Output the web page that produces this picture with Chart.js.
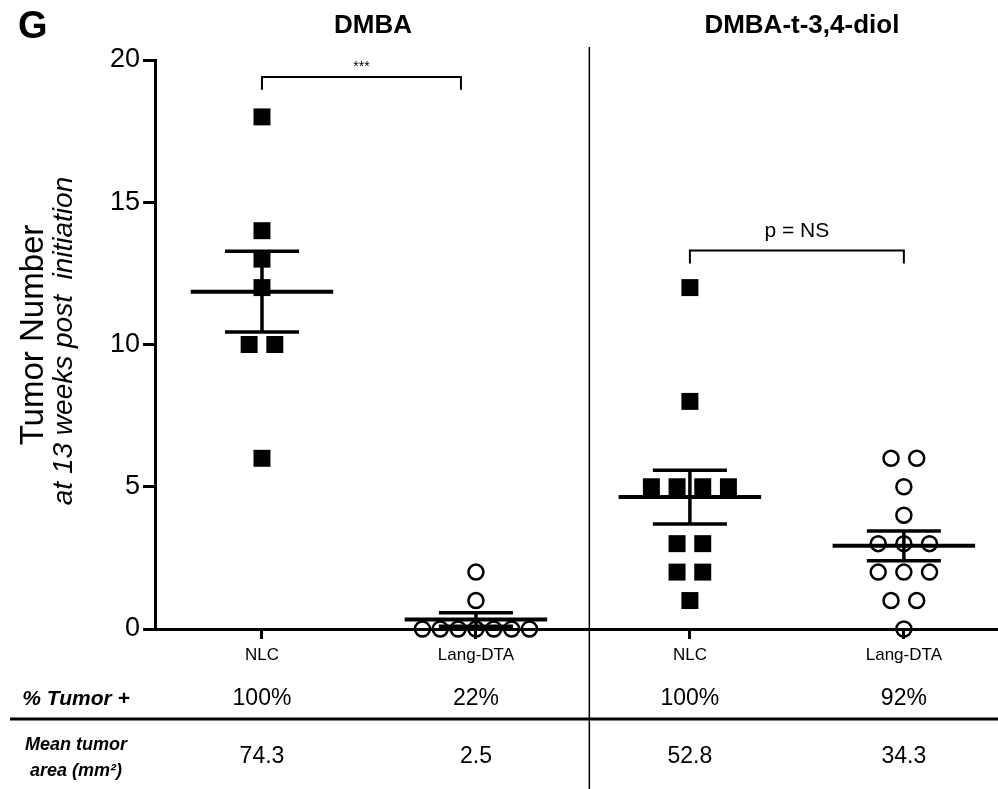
<!DOCTYPE html>
<html>
<head>
<meta charset="utf-8">
<script src="https://cdn.jsdelivr.net/npm/chart.js@4.4.0/dist/chart.umd.min.js"></script>
<style>
  html, body { margin: 0; padding: 0; background: #fff; }
  #wrap { width: 998px; height: 789px; position: relative; }
</style>
</head>
<body>
<div id="wrap"><canvas id="chart" width="998" height="789"></canvas></div>
<script>
// ===== Data =====
const groupLabels = ['NLC', 'Lang-DTA', 'NLC', 'Lang-DTA'];
const treatments  = ['DMBA', 'DMBA-t-3,4-diol'];
const nlcDmba  = [18, 14, 13, 12, 10, 10, 6];
const langDmba = [2, 1, 0, 0, 0, 0, 0, 0, 0];
const nlcDiol  = [12, 8, 5, 5, 5, 5, 3, 3, 2, 2, 1];
const langDiol = [6, 6, 5, 4, 3, 3, 3, 2, 2, 2, 1, 1, 0];
const pctTumor = ['100%', '22%', '100%', '92%'];
const meanArea = ['74.3', '2.5', '52.8', '34.3'];
const yTicks   = [0, 5, 10, 15, 20];
const sigLabels = ['***', 'p = NS'];

// ===== Layout (x in axis units) =====
const groupX   = [0.5, 1.5, 2.5, 3.5];
const xMax     = 3.94;
const dividerX = 2.03;
const FONT = "'Liberation Sans', Arial, sans-serif";

Chart.defaults.font.family = FONT;
Chart.defaults.color = '#000';

// spread equal values side by side, like a dot plot
function spread(values, gx) {
  const counts = {};
  values.forEach(v => counts[v] = (counts[v] || 0) + 1);
  const seen = {};
  return values.map(v => {
    const n = counts[v];
    const k = seen[v] = (seen[v] === undefined ? 0 : seen[v] + 1);
    const step = n > 1 ? Math.min(0.12, 0.5 / (n - 1)) : 0;
    return { x: gx + (k - (n - 1) / 2) * step, y: v };
  });
}

function stats(values) {
  const n = values.length;
  const mean = values.reduce((a, b) => a + b, 0) / n;
  const sd = Math.sqrt(values.reduce((a, b) => a + (b - mean) ** 2, 0) / (n - 1));
  return { mean, sem: sd / Math.sqrt(n) };
}

function seg(x1, y1, x2, y2, w) {
  return {
    type: 'line', data: [{ x: x1, y: y1 }, { x: x2, y: y2 }],
    borderColor: '#000', borderWidth: w, pointRadius: 0, clip: false,
    borderCapStyle: 'butt'
  };
}

const groups = [nlcDmba, langDmba, nlcDiol, langDiol];
const datasets = [];

groups.forEach((vals, i) => {
  const gx = groupX[i];
  const isNlc = i % 2 === 0;
  datasets.push({
    type: 'scatter',
    data: spread(vals, gx),
    pointStyle: isNlc ? 'rect' : 'circle',
    pointRadius: isNlc ? 12 : 7.5,
    pointBackgroundColor: isNlc ? '#000' : 'rgba(0,0,0,0)',
    pointBorderColor: '#000',
    pointBorderWidth: isNlc ? 0 : 2.5,
    clip: false
  });
  const s = stats(vals);
  datasets.push(seg(gx - 0.333, s.mean, gx + 0.333, s.mean, 4));
  datasets.push(seg(gx - 0.173, s.mean + s.sem, gx + 0.173, s.mean + s.sem, 3.5));
  datasets.push(seg(gx - 0.173, s.mean - s.sem, gx + 0.173, s.mean - s.sem, 3.5));
  datasets.push(seg(gx, s.mean - s.sem, gx, s.mean + s.sem, 3.5));
});

// ===== Annotations: titles, brackets, divider, table =====
const extras = {
  id: 'extras',
  afterDraw(chart) {
    const ctx = chart.ctx;
    const xs = chart.scales.x, ys = chart.scales.y;
    const px = v => xs.getPixelForValue(v);
    const py = v => ys.getPixelForValue(v);
    ctx.save();
    ctx.fillStyle = '#000';
    ctx.strokeStyle = '#000';
    ctx.textBaseline = 'middle';

    // panel letter
    ctx.font = 'bold 38px ' + FONT;
    ctx.textAlign = 'left';
    ctx.fillText('G', 18, 28);

    // treatment headers
    ctx.font = 'bold 26px ' + FONT;
    ctx.textAlign = 'center';
    ctx.fillText(treatments[0], px((groupX[0] + groupX[1]) / 2) + 4, 26);
    ctx.fillText(treatments[1], px((groupX[2] + groupX[3]) / 2) + 5, 26);

    // divider
    ctx.lineWidth = 1.5;
    ctx.beginPath();
    ctx.moveTo(px(dividerX), 47);
    ctx.lineTo(px(dividerX), 789);
    ctx.stroke();

    // significance brackets
    function bracket(x1, x2, yTop, label, size) {
      const a = px(x1), b = px(x2), t = py(yTop), d = py(yTop - 0.45);
      ctx.lineWidth = 2;
      ctx.beginPath();
      ctx.moveTo(a, d); ctx.lineTo(a, t); ctx.lineTo(b, t); ctx.lineTo(b, d);
      ctx.stroke();
      ctx.font = size + 'px ' + FONT;
      ctx.fillText(label, (a + b) / 2, t - (size > 16 ? 19 : 10));
    }
    bracket(groupX[0], groupX[1] - 0.07, 19.4, sigLabels[0], 14);
    bracket(groupX[2], groupX[3], 13.3, sigLabels[1], 21);

    // y axis titles
    ctx.save();
    ctx.translate(34, 335);
    ctx.rotate(-Math.PI / 2);
    ctx.font = '33px ' + FONT;
    ctx.fillText('Tumor Number', 0, 0);
    ctx.restore();
    ctx.save();
    ctx.translate(64, 341);
    ctx.rotate(-Math.PI / 2);
    ctx.font = 'italic 28px ' + FONT;
    ctx.fillText('at 13 weeks post  initiation', 0, 0);
    ctx.restore();

    // table rows
    ctx.font = 'bold italic 21px ' + FONT;
    ctx.fillText('% Tumor +', 76, 699);
    ctx.font = 'bold italic 18px ' + FONT;
    ctx.fillText('Mean tumor', 76, 745);
    ctx.fillText('area (mm²)', 76, 771);
    ctx.font = '23px ' + FONT;
    groupX.forEach((g, i) => {
      ctx.fillText(pctTumor[i], px(g), 699);
      ctx.fillText(meanArea[i], px(g), 757);
    });
    ctx.lineWidth = 3;
    ctx.beginPath();
    ctx.moveTo(10, 719);
    ctx.lineTo(998, 719);
    ctx.stroke();
    ctx.restore();
  }
};

new Chart(document.getElementById('chart'), {
  type: 'scatter',
  data: { datasets },
  options: {
    responsive: false,
    animation: false,
    layout: { autoPadding: false, padding: { top: 60, left: 0, right: 0, bottom: 0 } },
    plugins: { legend: { display: false }, tooltip: { enabled: false } },
    scales: {
      x: {
        type: 'linear', min: 0, max: xMax,
        afterBuildTicks: s => { s.ticks = groupX.map(v => ({ value: v })); },
        afterFit: s => { s.height = 160; s.paddingLeft = 0; s.paddingRight = 0; },
        ticks: {
          autoSkip: false, maxRotation: 0, padding: 6,
          font: { size: 17 }, color: '#000',
          callback: (v, i) => groupLabels[i]
        },
        grid: { drawOnChartArea: false, tickLength: 10, tickWidth: 3, tickColor: '#000' },
        border: { color: '#000', width: 3 }
      },
      y: {
        min: 0, max: 20,
        afterBuildTicks: s => { s.ticks = yTicks.map(v => ({ value: v })); },
        afterFit: s => { s.width = 155; },
        ticks: { font: { size: 27 }, color: '#000', padding: 3 },
        grid: { drawOnChartArea: false, tickLength: 12, tickWidth: 3, tickColor: '#000' },
        border: { color: '#000', width: 3 }
      }
    }
  },
  plugins: [extras]
});
</script>
</body>
</html>
